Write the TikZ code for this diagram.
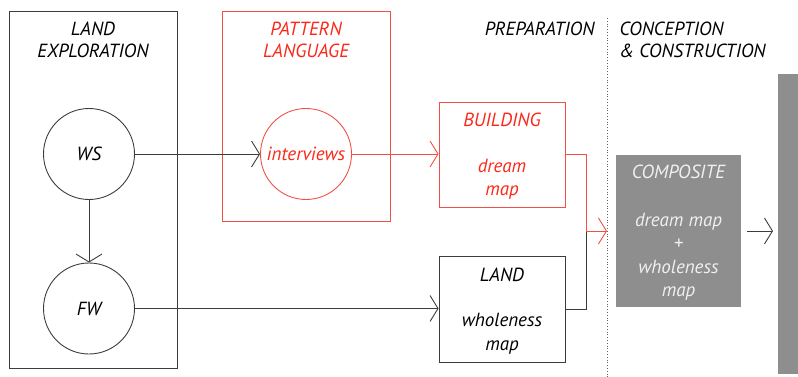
\documentclass[tikz,border=0pt]{standalone}
\usepackage{fontspec}
\setmainfont{PT Sans}
\usetikzlibrary{arrows.meta,positioning,calc}
\definecolor{redline}{RGB}{240,80,70}
\definecolor{redtext}{RGB}{250,40,25}
\definecolor{greyfill}{RGB}{142,142,142}
\definecolor{darkline}{RGB}{60,60,60}
\tikzset{
  >={Straight Barb[length=8pt,width=26pt]},
  txt/.style={font=\fontsize{19}{23.5}\selectfont\itshape, align=center},
  frame/.style={draw=darkline, line width=0.9pt, inner sep=0pt},
  redframe/.style={draw=redline, line width=0.9pt, inner sep=0pt},
  ring/.style={circle, draw=darkline, line width=0.9pt, minimum size=91pt, inner sep=0pt, txt},
  stepbox/.style={rectangle, line width=0.9pt, minimum width=126pt, inner sep=0pt, text depth=0pt, txt},
}
\begin{document}
\begin{tikzpicture}[x=1pt,y=-1pt]
  \useasboundingbox (0,0) rectangle (798,377);

  % column frames
  \node[frame, minimum width=168pt, minimum height=357pt] (landbox) at (93,189.5) {};
  \node[txt, anchor=base, font=\fontsize{19}{22}\selectfont\itshape] (landtitle) at (93,58) {LAND\\EXPLORATION};
  \node[redframe, minimum width=168pt, minimum height=210pt] (patbox) at (306,116) {};
  \node[txt, anchor=base, text=redtext, font=\fontsize{19}{22}\selectfont\itshape] (pattitle) at (306,58) {PATTERN\\LANGUAGE};

  % circles
  \node[ring] (ws) at (89,154) {WS};
  \node[ring] (fw) at (89,308.5) {FW};
  \node[ring, draw=redline, text=redtext] (int) at (306,154) {interviews};

  % preparation boxes
  \node[stepbox, draw=redline, text=redtext, minimum height=105pt] (build) at (502,154.5)
    {BUILDING\\[22pt]dream\\map};
  \node[stepbox, draw=darkline, minimum height=106pt] (land) at (502,309)
    {LAND\\[22pt]wholeness\\map};

  % phases
  \draw[darkline!80, dotted, line width=0.8pt] (607,18) -- (607,377);
  \node[txt, anchor=base east] (prep) at (598,36) {PREPARATION};
  \node[txt, anchor=base west, align=left, font=\fontsize{19}{22}\selectfont\itshape] (conc) at (616,58) {CONCEPTION\\\& CONSTRUCTION};

  % composite and final bar
  \node[stepbox, fill=greyfill, text=white!94!black, minimum width=125pt, minimum height=152pt] (comp)
    at (678.5,231) {COMPOSITE\\[24pt]dream map\\+\\wholeness\\map};
  \fill[greyfill] (778,74) rectangle (798,374);
  \coordinate (bar) at (773,231);

  % connectors
  \draw[->, darkline, line width=0.9pt] (ws) -- (fw);
  \draw[->, darkline, line width=0.9pt] (ws) -- (int);
  \draw[->, redline, line width=0.9pt] (int) -- (int -| build.west);
  \draw[->, darkline, line width=0.9pt] (fw) -- (fw -| land.west);
  \coordinate (merge) at (586,231);
  \coordinate (mergetip) at (607,231);
  \draw[darkline, line width=0.9pt] (land.east) -| (merge);
  \draw[->, redline, line width=0.9pt] (build.east) -| (merge) -- (mergetip);
  \draw[->, darkline, line width=0.9pt] ([xshift=6pt]comp.east) -- (bar);
\end{tikzpicture}
\end{document}
